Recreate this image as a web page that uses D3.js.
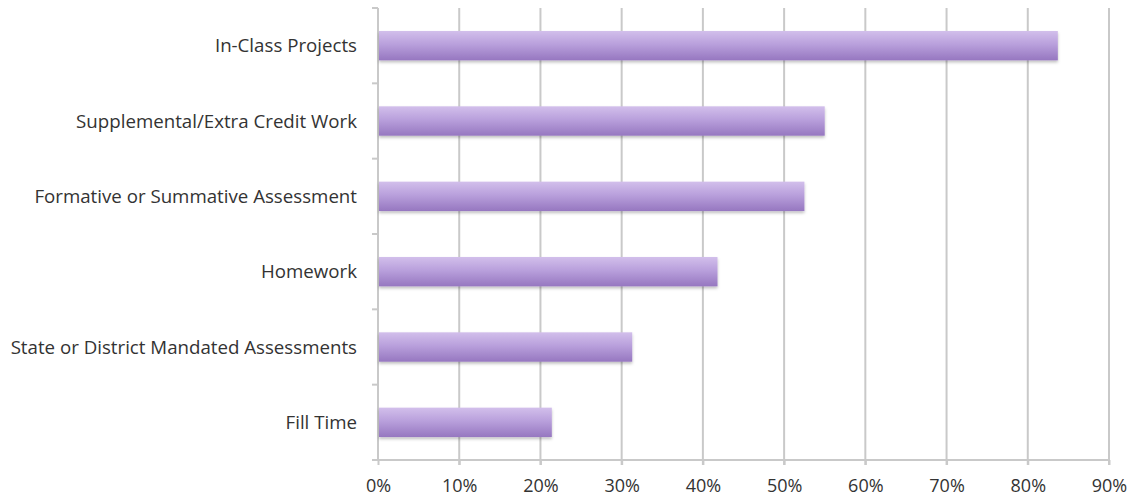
<!DOCTYPE html>
<html>
<head>
<meta charset="utf-8">
<script src="https://cdn.jsdelivr.net/npm/d3@7"></script>
<style>
  body { margin: 0; background: #fff; }
</style>
</head>
<body>
<div id="chart"></div>
<script>
const categories = [
  "In-Class Projects",
  "Supplemental/Extra Credit Work",
  "Formative or Summative Assessment",
  "Homework",
  "State or District Mandated Assessments",
  "Fill Time"
];
const values = [0.837, 0.550, 0.525, 0.418, 0.313, 0.214];
const xTicks = [0, 0.1, 0.2, 0.3, 0.4, 0.5, 0.6, 0.7, 0.8, 0.9];

const width = 1133, height = 502;
const margin = { top: 8, right: 24, bottom: 42, left: 378 };

const svg = d3.select('#chart')
  .append('svg')
  .attr('width', width)
  .attr('height', height)
  .attr('font-family', '"Open Sans", sans-serif')
  .attr('font-size', 16);

const x = d3.scaleLinear()
  .domain([0, 0.9])
  .range([margin.left, width - margin.right]);

const y = d3.scaleBand()
  .domain(categories)
  .range([margin.top, height - margin.bottom])
  .paddingInner(0.61)
  .paddingOuter(0.305);

// bar gradient
const defs = svg.append('defs');
const grad = defs.append('linearGradient')
  .attr('id', 'barGrad')
  .attr('x1', 0).attr('y1', 0).attr('x2', 0).attr('y2', 1);
grad.append('stop').attr('offset', '0%').attr('stop-color', '#d2bfeb');
grad.append('stop').attr('offset', '45%').attr('stop-color', '#b9a0dc');
grad.append('stop').attr('offset', '100%').attr('stop-color', '#9677c0');

const shadow = defs.append('filter')
  .attr('id', 'shadow')
  .attr('x', '-5%').attr('y', '-20%')
  .attr('width', '110%').attr('height', '160%');
shadow.append('feDropShadow')
  .attr('dx', 0).attr('dy', 2)
  .attr('stdDeviation', 1.5)
  .attr('flood-color', '#000')
  .attr('flood-opacity', 0.25);

// gridlines
svg.append('g')
  .selectAll('line')
  .data(xTicks.slice(1))
  .join('line')
  .attr('x1', d => x(d))
  .attr('x2', d => x(d))
  .attr('y1', margin.top)
  .attr('y2', height - margin.bottom + 5)
  .attr('stroke', '#c9c9c9')
  .attr('stroke-width', 2);

// x axis
const xAxis = svg.append('g')
  .attr('transform', `translate(0,${height - margin.bottom})`)
  .call(d3.axisBottom(x)
    .tickValues(xTicks)
    .tickFormat(d3.format('.0%'))
    .tickSize(5)
    .tickPadding(14)
    .tickSizeOuter(0));
xAxis.select('.domain')
  .attr('d', `M${margin.left - 6},0H${width - margin.right}`)
  .attr('stroke', '#c9c9c9')
  .attr('stroke-width', 2);
xAxis.selectAll('.tick line')
  .attr('stroke', '#c9c9c9')
  .attr('stroke-width', 2);
xAxis.selectAll('.tick text')
  .attr('fill', '#333')
  .attr('font-family', '"Open Sans", sans-serif')
  .attr('font-size', 18);

// y axis line with ticks at band boundaries
const boundaries = categories.map((c, i) => margin.top + i * y.step()).concat([height - margin.bottom]);
svg.append('line')
  .attr('x1', margin.left)
  .attr('x2', margin.left)
  .attr('y1', margin.top)
  .attr('y2', height - margin.bottom)
  .attr('stroke', '#c9c9c9')
  .attr('stroke-width', 2);
svg.append('g')
  .selectAll('line')
  .data(boundaries)
  .join('line')
  .attr('x1', margin.left - 6)
  .attr('x2', margin.left)
  .attr('y1', d => d)
  .attr('y2', d => d)
  .attr('stroke', '#c9c9c9')
  .attr('stroke-width', 2);

// bars
svg.append('g')
  .selectAll('rect')
  .data(values)
  .join('rect')
  .attr('x', x(0) + 1)
  .attr('y', (d, i) => y(categories[i]))
  .attr('width', d => x(d) - x(0) - 1)
  .attr('height', y.bandwidth())
  .attr('fill', 'url(#barGrad)')
  .attr('filter', 'url(#shadow)');

// category labels
svg.append('g')
  .selectAll('text')
  .data(categories)
  .join('text')
  .attr('x', margin.left - 21)
  .attr('y', d => y(d) + y.bandwidth() / 2)
  .attr('dy', '0.35em')
  .attr('text-anchor', 'end')
  .attr('fill', '#333')
  .attr('font-size', 18.7)
  .text(d => d);
</script>
</body>
</html>
